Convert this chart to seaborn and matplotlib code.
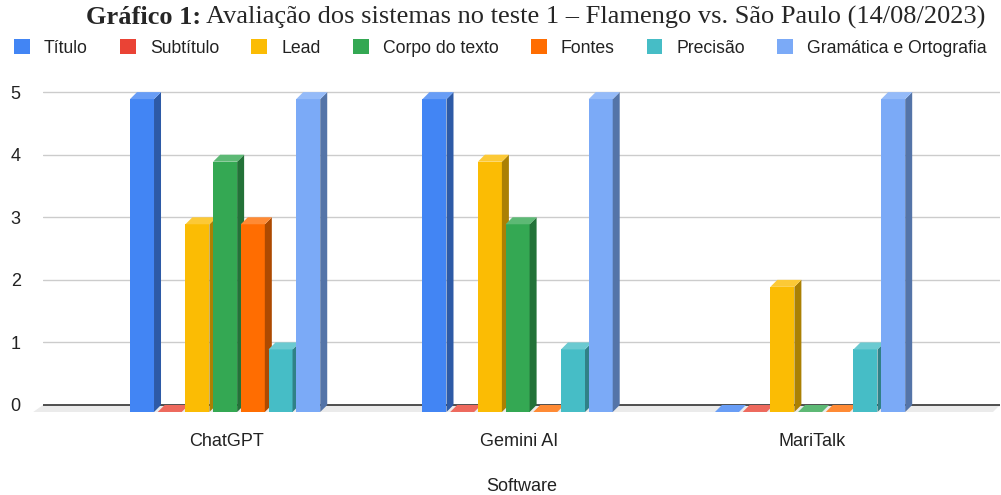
import matplotlib
matplotlib.use("Agg")
import matplotlib.pyplot as plt
import matplotlib.colors as mcolors
from matplotlib.patches import Polygon
import pandas as pd
import seaborn as sns

# dados
softwares = ["ChatGPT", "Gemini AI", "MariTalk"]
criterios = ["Título", "Subtítulo", "Lead", "Corpo do texto", "Fontes",
             "Precisão", "Gramática e Ortografia"]
notas_chatgpt = [5, 0, 3, 4, 3, 1, 5]
notas_gemini = [5, 0, 4, 3, 0, 1, 5]
notas_maritalk = [0, 0, 2, 0, 0, 1, 5]
cores = ["#4285F4", "#EA4335", "#FBBC04", "#34A853", "#FF6D01", "#46BDC6", "#7BAAF7"]

rows = []
for sw, notas in zip(softwares, [notas_chatgpt, notas_gemini, notas_maritalk]):
    for c, n in zip(criterios, notas):
        rows.append({"Software": sw, "Critério": c, "Nota": n})
df = pd.DataFrame(rows)

sns.set_theme(style="white")
plt.rcParams["font.family"] = ["Liberation Sans", "DejaVu Sans"]

W, H = 1001, 495
fig = plt.figure(figsize=(W / 100, H / 100), dpi=100)
# eixo: x de 43 a 1000 px, y de 89 a 417.5 px
ax = fig.add_axes([43 / W, (H - 417.5) / H, (1000 - 43) / W, 328.5 / H])

sns.barplot(data=df, x="Software", y="Nota", hue="Critério", palette=cores,
            width=0.663, linewidth=0, saturation=1, ax=ax, errorbar=None)
ax.set_xlim(-0.629, 2.643)
ax.set_ylim(-0.2, 5.05)

# conversão de pixels para unidades de dados
px_x = (ax.get_xlim()[1] - ax.get_xlim()[0]) / (1000 - 43)
px_y = (ax.get_ylim()[1] - ax.get_ylim()[0]) / 328.5
dx, dy = 7 * px_x, 7 * px_y
fw = 24 * px_x


def shade(c, f):
    r, g, b = mcolors.to_rgb(c)
    return (r * f, g * f, b * f)


def light(c, f):
    r, g, b = mcolors.to_rgb(c)
    return (r + (1 - r) * f, g + (1 - g) * f, b + (1 - b) * f)


# efeito 3D
for i, cont in enumerate(ax.containers):
    col = cores[i]
    for bar in cont:
        x0 = bar.get_x()
        h = bar.get_height()
        z = 3 + x0
        bar.set_width(fw)
        bar.set_y(-dy)
        bar.set_zorder(z)
        side = Polygon([(x0 + fw, -dy), (x0 + fw + dx, 0), (x0 + fw + dx, h), (x0 + fw, h - dy)],
                       closed=True, facecolor=shade(col, 0.68), linewidth=0, zorder=z)
        top = Polygon([(x0, h - dy), (x0 + dx, h), (x0 + fw + dx, h), (x0 + fw, h - dy)],
                      closed=True, facecolor=light(col, 0.2), linewidth=0, zorder=z)
        ax.add_patch(side)
        ax.add_patch(top)

# piso e linha zero
xl, xr = ax.get_xlim()
floor = Polygon([(xl - 1.4 * dx, -dy), (xl, 0), (xr, 0), (xr - dx, -dy)], closed=True,
                facecolor="#ebebeb", linewidth=0, zorder=1, clip_on=False)
ax.add_patch(floor)
ax.plot([xl, xr], [0, 0], color="#333333", linewidth=1.2, zorder=2)

ax.set_yticks([0, 1, 2, 3, 4, 5])
ax.yaxis.grid(True, color="#cccccc", linewidth=1)
ax.set_axisbelow(True)
for s in ax.spines.values():
    s.set_visible(False)
ax.tick_params(axis="y", length=0, pad=16, labelsize=13, labelcolor="#222222")
ax.tick_params(axis="x", length=0, pad=11, labelsize=13, labelcolor="#222222")
ax.set_ylabel("")
ax.set_xlabel("Software", fontsize=13, color="#222222", labelpad=20)

handles, labels = ax.get_legend_handles_labels()
ax.get_legend().remove()
fig.legend(handles, labels, loc="center", bbox_to_anchor=(0.5, 1 - 48 / H), ncol=7,
           frameon=False, fontsize=12.7, handlelength=0.9, handleheight=0.9,
           handletextpad=0.8, columnspacing=1.82, labelcolor="#222222")

# título com parte em negrito
fig.canvas.draw()
rend = fig.canvas.get_renderer()
t1 = fig.text(0, 0, "Gráfico 1:", fontsize=19, fontweight="bold",
              family="Liberation Serif", va="center", ha="left")
t2 = fig.text(0, 0, " Avaliação dos sistemas no teste 1 – Flamengo vs. São Paulo (14/08/2023)",
              fontsize=19, family="Liberation Serif", va="center", ha="left")
w1 = t1.get_window_extent(rend).width
w2 = t2.get_window_extent(rend).width
x_start = (536 - (w1 + w2) / 2) / W
yt = 1 - 17 / H
t1.set_position((x_start, yt))
t2.set_position((x_start + w1 / W, yt))

fig.savefig("out.png", dpi=100)
